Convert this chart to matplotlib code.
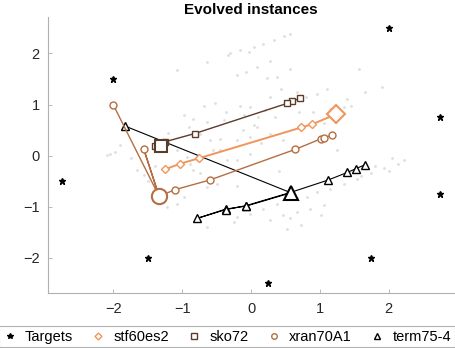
import matplotlib
matplotlib.use("Agg")
import matplotlib.pyplot as plt
from matplotlib.lines import Line2D

plt.rcParams['font.family'] = ['Liberation Sans', 'DejaVu Sans']

# ---- data ----
targets_x = [-2.0, 2.0, 2.75, -2.75, 2.75, -1.5, 1.75, 0.25]
targets_y = [1.5, 2.5, 0.75, -0.5, -0.75, -2.0, -2.0, -2.5]

stf_x = [-1.25, -1.03, -0.75, 0.73, 0.88, 1.24]
stf_y = [-0.27, -0.16, -0.05, 0.55, 0.61, 0.81]
stf_final = 5

sko_x = [0.71, 0.59, 0.52, -0.82, -1.25, -1.40, -1.31]
sko_y = [1.12, 1.06, 1.02, 0.43, 0.27, 0.19, 0.19]
sko_final = 6

xran_x = [-2.0, -1.335, -1.56, -1.335, -1.11, -0.60, 0.64, 1.02, 1.06, 1.175]
xran_y = [0.99, -0.80, 0.13, -0.80, -0.67, -0.48, 0.12, 0.33, 0.35, 0.40]
xran_final = 1

term_x = [-1.835, 0.58, -0.07, -0.37, -0.78, -0.37, -0.07, 0.58, 1.12, 1.40, 1.52, 1.655]
term_y = [0.58, -0.73, -0.99, -1.05, -1.23, -1.06, -0.98, -0.72, -0.48, -0.33, -0.26, -0.18]
term_final = 1

cloud_x = [-0.30, -0.16, 0.04, 0.18, 0.33, 0.48, 0.57, -0.03, 0.09, 0.28, -0.20, -0.08, 0.38, 0.57,
           0.23, 0.43, 0.67, 0.96, 1.15, 1.35, 1.45, 1.57, 0.28, -0.01, -0.16, -1.08, -0.64, -0.69,
           -0.52, -0.98, -0.84, -0.64, -0.37, -0.33, -2.05, -1.98, -1.90, -1.66, -1.56, -1.08, -0.93,
           -0.84, -0.74, -0.98, -1.22, -1.08, -0.64, -0.49, -0.35, -0.59, -0.45, -0.74, -0.88, -0.79,
           1.74, 1.93, 2.13, 2.22, 1.54, 1.35, 1.15, 0.96, 0.82, 0.67, 1.06, 0.86, 0.67, 0.47, 0.28,
           0.57, 0.38, 0.18, -0.01, -0.20, -0.20, -0.01, -0.20, -0.01, 0.28, 0.47, -0.11, 0.09, 1.06,
           -0.64, -0.25, 0.52, 0.72, 1.01, -2.10, -0.45, 0.10, 0.70, 1.80, 2.05, -1.40, -0.20, 0.40,
           -0.10, 0.20, 0.50, 0.80, 1.10, 1.40, 1.65, 1.90, -1.20, -0.90, -0.40, 0.05, 0.35, 0.90,
           -1.50, -1.75, -0.55, 0.15, 1.25, 1.60, 2.00]
cloud_y = [2.00, 2.06, 2.13, 2.19, 2.27, 2.34, 2.39, 2.03, 1.73, 1.86, 1.57, 1.64, 1.54, 1.70,
           1.51, 1.31, 1.25, 1.21, 0.92, 0.95, 0.98, 1.70, 1.15, 0.95, 0.98, 1.67, 1.83, 0.98,
           1.02, 0.79, 0.72, 0.66, 0.85, 1.96, 0.04, 0.07, 0.20, -0.29, -0.39, 0.10, -0.03,
           -0.29, -0.35, -0.81, -1.01, -0.94, -0.61, -0.55, -0.09, 0.30, 0.33, 0.43, -0.16, -0.09,
           -0.35, -0.25, -0.16, -0.09, -0.45, -0.55, -0.65, -0.71, -0.81, -0.84, -0.97, -1.04, -1.10, -1.17, -1.27,
           -1.23, -0.94, -1.04, -1.14, -1.20, -0.09, 0.04, 0.30, 0.36, 0.43, 0.30, 0.50, 0.56, 0.63,
           -1.40, -1.30, -1.43, -1.36, -1.17, 0.01, 0.10, 0.75, 0.85, -0.20, -0.05, -0.20, -0.60, -0.30,
           0.80, 0.90, 1.05, 1.15, 1.30, 1.10, 1.25, 1.35, 0.45, 0.55, 0.70, 0.60, 0.75, 0.85,
           -0.50, -0.05, 0.10, 0.25, 0.10, -0.40, -0.30]

labels = ['Targets', 'stf60es2', 'sko72', 'xran70A1', 'term75-4']
c_stf = '#F2955A'
c_sko = '#5C3B2A'
c_xran = '#B46E42'
c_term = '#000000'

fig = plt.figure(figsize=(4.55, 3.48), dpi=100)
ax = fig.add_axes([0.1055, 0.157, 0.8925, 0.795])

ax.scatter(cloud_x, cloud_y, s=4, color='#dedede', linewidths=0, zorder=1)

def series(x, y, fin, color, marker, lw, ms, big):
    ax.plot(x, y, color=color, lw=lw, marker=marker, ms=ms, mfc='white',
            mec=color, mew=1.0, zorder=3)
    ax.plot([x[fin]], [y[fin]], color=color, marker=marker, ms=big, mfc='white',
            mec=color, mew=1.5, ls='none', zorder=4)

series(term_x, term_y, term_final, c_term, '^', 0.8, 5.5, 10)
series(xran_x, xran_y, xran_final, c_xran, 'o', 1.0, 5, 11)
series(sko_x, sko_y, sko_final, c_sko, 's', 1.0, 5, 9)
series(stf_x, stf_y, stf_final, c_stf, 'D', 1.4, 4.5, 9)

ax.plot(targets_x, targets_y, ls='none', marker='*', ms=4.5, color='black', zorder=5)

ax.set_xlim(-2.95, 2.95)
ax.set_ylim(-2.7, 2.72)
ax.set_xticks([-2, -1, 0, 1, 2])
ax.set_yticks([-2, -1, 0, 1, 2])
for s in ['top', 'right']:
    ax.spines[s].set_visible(False)
for s in ['left', 'bottom']:
    ax.spines[s].set_color('#b0b0b0')
    ax.spines[s].set_linewidth(0.8)
ax.tick_params(direction='in', length=3, width=0.6, color='#b0b0b0',
               labelsize=10.5, labelcolor='#262626', pad=6)
ax.set_title('Evolved instances', fontsize=11, fontweight='bold', pad=2)

handles = [
    Line2D([], [], ls='none', marker='*', ms=4, color='black'),
    Line2D([], [], ls='none', marker='D', ms=3.5, mfc='white', mec=c_stf, mew=1),
    Line2D([], [], ls='none', marker='s', ms=4, mfc='white', mec=c_sko, mew=1),
    Line2D([], [], ls='none', marker='o', ms=4, mfc='white', mec=c_xran, mew=1),
    Line2D([], [], ls='none', marker='^', ms=4, mfc='white', mec=c_term, mew=1),
]
leg = fig.legend(handles, labels, loc='lower center', bbox_to_anchor=(0.499, 0.0),
                 ncol=5, fontsize=10.5, frameon=True, fancybox=False,
                 handlelength=0.9, handletextpad=0.6, columnspacing=1.27,
                 borderpad=0.25, borderaxespad=0.05)
leg.get_frame().set_edgecolor('#a0a0a0')
leg.get_frame().set_linewidth(0.8)

fig.savefig('out.png', dpi=100)
